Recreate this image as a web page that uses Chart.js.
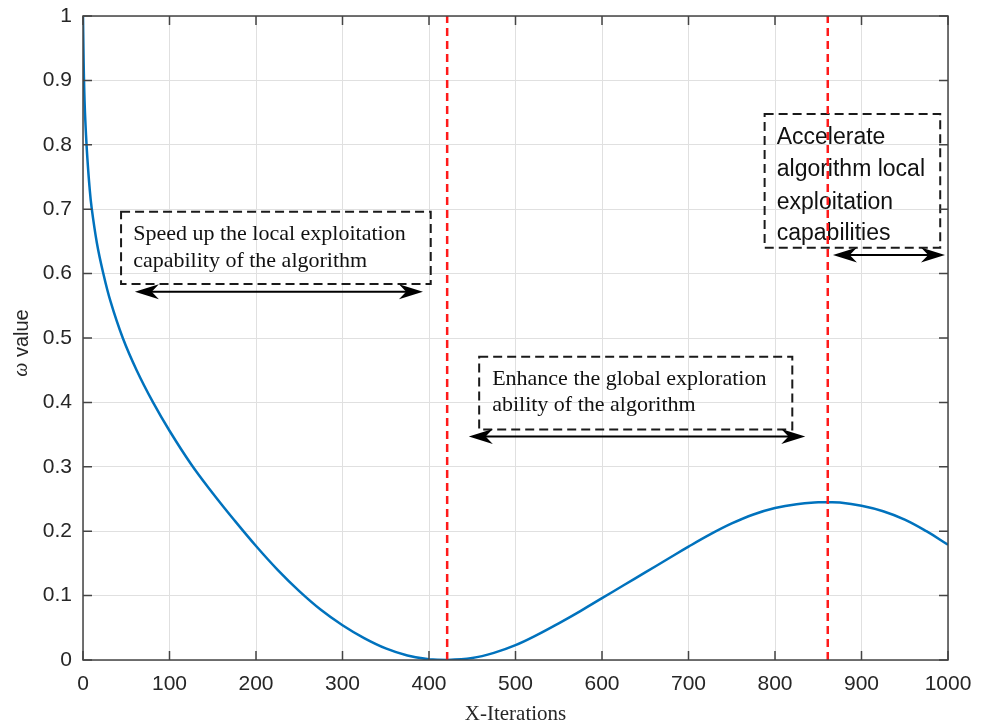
<!DOCTYPE html>
<html>
<head>
<meta charset="utf-8">
<script src="https://cdn.jsdelivr.net/npm/chart.js@4.4.1/dist/chart.umd.min.js"></script>
<style>
  html, body { margin: 0; padding: 0; background: #fff; }
  canvas { display: block; }
</style>
</head>
<body>
<canvas id="omegaChart" width="985" height="725"></canvas>
<script>
// omega curve
var iterX = [0, 0.5, 1, 2, 3.5, 5, 7.5, 10, 16, 23, 32, 46, 62, 81, 100, 125, 150, 175, 200, 225,
  250, 275, 300, 325, 350, 375, 400, 421, 450, 475, 500, 525, 550, 575, 600, 625, 650, 675, 700, 725,
  750, 775, 800, 825, 850, 861, 875, 900, 925, 950, 975, 1000];
var omegaY = [1.0, 0.95, 0.91, 0.86, 0.815, 0.78, 0.735, 0.702, 0.648, 0.603, 0.556, 0.5, 0.45, 0.4, 0.356, 0.304, 0.259, 0.217, 0.177, 0.14,
  0.107, 0.078, 0.054, 0.034, 0.018, 0.007, 0.001, 0, 0.003, 0.011, 0.023, 0.039, 0.057, 0.076, 0.096, 0.116, 0.136, 0.156, 0.176, 0.195,
  0.212, 0.226, 0.236, 0.242, 0.2448, 0.245, 0.2445, 0.2395, 0.231, 0.218, 0.2, 0.179];

// red dashed phase boundaries (iteration)
var phaseSplits = [421, 861];

var xTicks = [0, 100, 200, 300, 400, 500, 600, 700, 800, 900, 1000];
var xTickLabels = ['0', '100', '200', '300', '400', '500', '600', '700', '800', '900', '1000'];
var yTicks = [0, 0.1, 0.2, 0.3, 0.4, 0.5, 0.6, 0.7, 0.8, 0.9, 1];
var yTickLabels = ['0', '0.1', '0.2', '0.3', '0.4', '0.5', '0.6', '0.7', '0.8', '0.9', '1'];

// text boxes + double arrows, placed in data units
var notes = [
  { box: [44, 402, 0.584, 0.696], textX: 58, lines: ['Speed up the local exploitation', 'capability of the algorithm'],
    baselines: [0.652, 0.611], font: '22px "Liberation Serif", "Times New Roman", serif', arrow: [60, 393, 0.572] },
  { box: [458, 820, 0.358, 0.471], textX: 473, lines: ['Enhance the global exploration', 'ability of the algorithm'],
    baselines: [0.427, 0.386], font: '22px "Liberation Serif", "Times New Roman", serif', arrow: [446, 835, 0.347] },
  { box: [788, 991, 0.640, 0.848], textX: 802, lines: ['Accelerate', 'algorithm local', 'exploitation', 'capabilities'],
    baselines: [0.801, 0.751, 0.700, 0.652], font: '23px "Liberation Sans", Arial, sans-serif', arrow: [867, 996.5, 0.629] }
];

var splitSets = phaseSplits.map(function (v) {
  return {
    data: [{ x: v, y: 0 }, { x: v, y: 1 }],
    borderColor: '#ff1a1a',
    borderWidth: 2.5,
    borderDash: [8, 5],
    pointRadius: 0
  };
});

function arrowHead(ctx, tipX, y, dir) {
  var L = 24, W = 15;
  ctx.beginPath();
  ctx.moveTo(tipX, y);
  ctx.lineTo(tipX + dir * L, y - W / 2);
  ctx.lineTo(tipX + dir * L * 0.7, y);
  ctx.lineTo(tipX + dir * L, y + W / 2);
  ctx.closePath();
  ctx.fill();
}

var notesPlugin = {
  id: 'notes',
  beforeDatasetsDraw: function (chart) {
    var ctx = chart.ctx, xs = chart.scales.x, ys = chart.scales.y;
    ctx.save();
    notes.forEach(function (n) {
      var l = xs.getPixelForValue(n.box[0]), r = xs.getPixelForValue(n.box[1]);
      var b = ys.getPixelForValue(n.box[2]), t = ys.getPixelForValue(n.box[3]);
      ctx.strokeStyle = '#1a1a1a';
      ctx.lineWidth = 2;
      ctx.setLineDash([9, 5]);
      ctx.strokeRect(l, t, r - l, b - t);
      ctx.setLineDash([]);

      ctx.fillStyle = '#111';
      ctx.font = n.font;
      ctx.textAlign = 'left';
      ctx.textBaseline = 'alphabetic';
      n.lines.forEach(function (s, i) {
        ctx.fillText(s, xs.getPixelForValue(n.textX), ys.getPixelForValue(n.baselines[i]));
      });

      var a0 = xs.getPixelForValue(n.arrow[0]), a1 = xs.getPixelForValue(n.arrow[1]);
      var ay = ys.getPixelForValue(n.arrow[2]);
      ctx.strokeStyle = '#000';
      ctx.fillStyle = '#000';
      ctx.lineWidth = 2;
      ctx.beginPath();
      ctx.moveTo(a0 + 10, ay);
      ctx.lineTo(a1 - 10, ay);
      ctx.stroke();
      arrowHead(ctx, a0, ay, 1);
      arrowHead(ctx, a1, ay, -1);
    });
    ctx.restore();
  }
};

// box around the axes, ticks pointing inward, y title with italic omega
var framePlugin = {
  id: 'frame',
  afterDraw: function (chart) {
    var ctx = chart.ctx, a = chart.chartArea, xs = chart.scales.x, ys = chart.scales.y;
    var tl = 9;
    ctx.save();
    ctx.strokeStyle = '#444';
    ctx.lineWidth = 1.5;
    ctx.strokeRect(a.left, a.top, a.right - a.left, a.bottom - a.top);
    ctx.beginPath();
    xTicks.forEach(function (v) {
      var px = xs.getPixelForValue(v);
      ctx.moveTo(px, a.bottom); ctx.lineTo(px, a.bottom - tl);
      ctx.moveTo(px, a.top); ctx.lineTo(px, a.top + tl);
    });
    yTicks.forEach(function (v) {
      var py = ys.getPixelForValue(v);
      ctx.moveTo(a.left, py); ctx.lineTo(a.left + tl, py);
      ctx.moveTo(a.right, py); ctx.lineTo(a.right - tl, py);
    });
    ctx.stroke();

    ctx.translate(22, (a.top + a.bottom) / 2 + 5);
    ctx.rotate(-Math.PI / 2);
    ctx.fillStyle = '#262626';
    ctx.textBaseline = 'middle';
    ctx.textAlign = 'left';
    var fIt = 'italic 20px "Liberation Serif", "Times New Roman", serif';
    var fUp = '20px "Liberation Sans", Arial, sans-serif';
    ctx.font = fIt;
    var w1 = ctx.measureText('\u03c9').width;
    ctx.font = fUp;
    var w2 = ctx.measureText(' value').width;
    var x0 = -(w1 + w2) / 2;
    ctx.font = fIt;
    ctx.fillText('\u03c9', x0, 0);
    ctx.font = fUp;
    ctx.fillText(' value', x0 + w1, 0);
    ctx.restore();
  }
};

var tickFont = { family: '"Liberation Sans", Arial, sans-serif', size: 21 };

new Chart(document.getElementById('omegaChart').getContext('2d'), {
  type: 'line',
  data: {
    datasets: splitSets.concat([{
      data: iterX.map(function (x, i) { return { x: x, y: omegaY[i] }; }),
      borderColor: '#0072BD',
      borderWidth: 2.5,
      pointRadius: 0,
      tension: 0.4
    }])
  },
  options: {
    responsive: false,
    animation: false,
    layout: { padding: { top: 16, right: 37, left: 0, bottom: 0 } },
    plugins: { legend: { display: false }, tooltip: { enabled: false } },
    scales: {
      x: {
        type: 'linear', min: 0, max: 1000,
        afterBuildTicks: function (s) { s.ticks = xTicks.map(function (v) { return { value: v }; }); },
        afterFit: function (s) { s.height = 65; s.paddingLeft = 0; s.paddingRight = 0; },
        grid: { color: '#e0e0e0', lineWidth: 1, drawTicks: false },
        border: { display: false },
        ticks: {
          font: tickFont, color: '#262626', padding: 12, maxRotation: 0, autoSkip: false,
          callback: function (v, i) { return xTickLabels[i]; }
        },
        title: {
          display: true, text: 'X-Iterations', color: '#262626',
          font: { family: '"Liberation Serif", "Times New Roman", serif', size: 21, lineHeight: 1 },
          padding: { top: 0, bottom: 0 }
        }
      },
      y: {
        type: 'linear', min: 0, max: 1,
        afterBuildTicks: function (s) { s.ticks = yTicks.map(function (v) { return { value: v }; }); },
        afterFit: function (s) { s.width = 83; s.paddingTop = 0; s.paddingBottom = 0; },
        grid: { color: '#e0e0e0', lineWidth: 1, drawTicks: false },
        border: { display: false },
        ticks: {
          font: tickFont, color: '#262626', padding: 11, autoSkip: false,
          callback: function (v, i) { return yTickLabels[i]; }
        }
      }
    }
  },
  plugins: [notesPlugin, framePlugin]
});
</script>
</body>
</html>
